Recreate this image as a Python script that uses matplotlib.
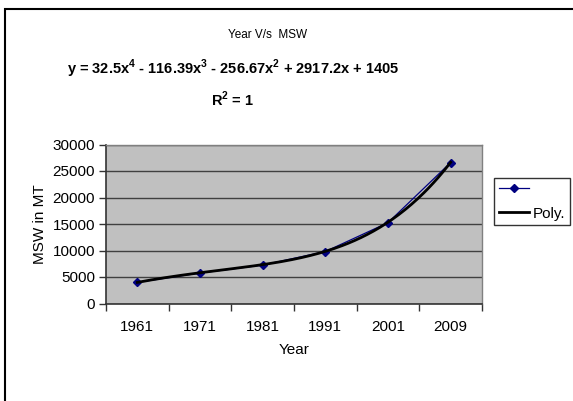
import numpy as np
import matplotlib
matplotlib.use('Agg')
import matplotlib.pyplot as plt
from matplotlib.patches import Rectangle

plt.rcParams['font.family'] = ['Liberation Sans', 'DejaVu Sans']
plt.rcParams['mathtext.fontset'] = 'custom'
plt.rcParams['mathtext.rm'] = 'Liberation Sans'
plt.rcParams['mathtext.bf'] = 'Liberation Sans:bold'

# --- Daten ---
years = ['1961', '1971', '1981', '1991', '2001', '2009']
msw = [4000, 5750, 7250, 9800, 15250, 26600]
# Trendlinie (Polynom 4. Grades, x = 1..6)
trend_coeffs = [32.5, -116.39, -256.67, 2917.2, 1405]
y_ticks = [0, 5000, 10000, 15000, 20000, 25000, 30000]

fig = plt.figure(figsize=(5.73, 4.01), dpi=100)
ax = fig.add_axes([106 / 573, 1 - 303.5 / 401, 376 / 573, 159 / 401])
ax.set_facecolor('#c0c0c0')

pos = np.arange(len(years))
h1, = ax.plot(pos, msw, color='#000080', lw=0.9, marker='D', markersize=4,
              markerfacecolor='#000080', markeredgecolor='#000080')
t = np.linspace(1, len(years), 200)
h2, = ax.plot(t - 1, np.polyval(trend_coeffs, t), color='black', lw=2)

ax.set_xlim(-0.5, len(years) - 0.5)
ax.set_ylim(0, 30000)
ax.set_yticks(y_ticks)
ax.set_yticklabels([str(v) for v in y_ticks], fontsize=11)
ax.set_xticks(pos)
ax.set_xticklabels(years, fontsize=11)
ax.tick_params(axis='x', length=0, pad=12)
ax.set_xticks(np.arange(len(years) + 1) - 0.5, minor=True)
ax.tick_params(axis='x', which='minor', length=5, width=1, color='#333333')
ax.tick_params(axis='y', length=5, width=1, color='#333333', pad=3)
ax.grid(axis='y', color='#404040', lw=1)
ax.set_axisbelow(True)
for side in ['top', 'right']:
    ax.spines[side].set_color('#808080')
    ax.spines[side].set_linewidth(1)
for side in ['left', 'bottom']:
    ax.spines[side].set_color('#333333')
    ax.spines[side].set_linewidth(1.2)

ax.set_xlabel('Year', fontsize=11, labelpad=6)
ax.set_ylabel('MSW in MT', fontsize=11, labelpad=4)

fig.text(268 / 573, 1 - 35 / 401, 'Year V/s  MSW', fontsize=8.5,
         ha='center', va='center')
fig.text(233 / 573, 1 - 69 / 401,
         r'y = 32.5x$^{\mathbf{4}}$ - 116.39x$^{\mathbf{3}}$ - 256.67x$^{\mathbf{2}}$ + 2917.2x + 1405',
         fontsize=10.5, fontweight='bold', ha='center', va='center')
fig.text(233 / 573, 1 - 99 / 401, r'R$^{\mathbf{2}}$ = 1', fontsize=10.5,
         fontweight='bold', ha='center', va='center')

leg = fig.legend([h1, h2], ['', 'Poly.'], loc='upper left',
                 bbox_to_anchor=(494 / 573, 1 - 177.5 / 401), fontsize=11,
                 frameon=True, fancybox=False, handlelength=2.0,
                 handletextpad=0.25, labelspacing=0.7, borderpad=0.3,
                 borderaxespad=0)
leg.get_frame().set_edgecolor('black')
leg.get_frame().set_linewidth(1)

# Rahmen um das Diagramm
fig.patches.append(Rectangle((5 / 573, -0.1), 1.2, 1 - 9 / 401 + 0.1,
                             transform=fig.transFigure, fill=False,
                             edgecolor='black', lw=1.5))

fig.savefig('out.png', dpi=100)
